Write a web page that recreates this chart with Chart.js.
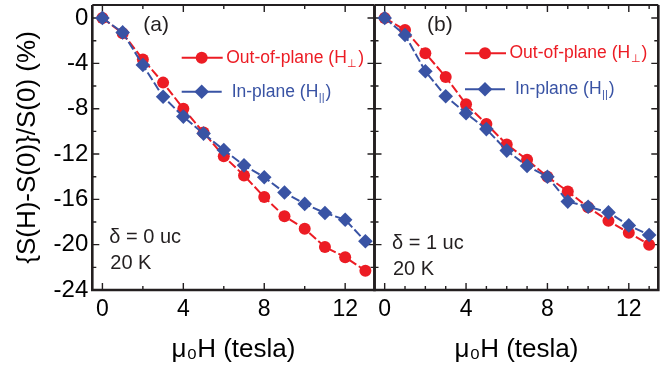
<!DOCTYPE html>
<html>
<head>
<meta charset="utf-8">
<script src="https://cdn.jsdelivr.net/npm/chart.js@4/dist/chart.umd.min.js"></script>
<style>
  html, body { margin: 0; padding: 0; background: #fff; }
  #wrap { position: relative; width: 668px; height: 371px; overflow: hidden; }
  canvas { position: absolute; top: 0; }
  #cA { left: 0; }
  #cB { left: 372px; }
</style>
</head>
<body>
<div id="wrap">
  <canvas id="cA" width="376" height="371"></canvas>
  <canvas id="cB" width="296" height="371"></canvas>
</div>
<script>
// field values (tesla)
const fieldT = [0, 1, 2, 3, 4, 5, 6, 7, 8, 9, 10, 11, 12, 13];

// panel (a), delta = 0 uc
const outPlaneA = [0, -1.35, -3.65, -5.7, -8.0, -10.1, -12.2, -13.9, -15.8, -17.5, -18.6, -20.2, -21.1, -22.3];
const inPlaneA = [0, -1.27, -4.15, -6.95, -8.7, -10.2, -11.65, -13.0, -14.05, -15.4, -16.4, -17.2, -17.8, -19.7];

// panel (b), delta = 1 uc
const outPlaneB = [0, -1.06, -3.1, -5.2, -7.6, -9.35, -11.15, -12.5, -14.0, -15.3, -16.7, -17.9, -18.95, -20.0];
const inPlaneB = [0, -1.5, -4.7, -6.9, -8.4, -9.8, -11.7, -13.05, -14.0, -16.2, -16.65, -17.15, -18.3, -19.15];

// tick labels
const xTickLabels = [0, 4, 8, 12];
const yTickLabels = [0, -4, -8, -12, -16, -20, -24];

const RED = '#ec1c24';
const BLUE = '#3953a4';
const INK = '#231f20';
const FONT = "'Liberation Sans', Arial, sans-serif";

function pts(ys) {
  return fieldT.map((x, i) => ({ x: x, y: ys[i] }));
}

// frame + inward ticks
const framePlugin = {
  id: 'frame',
  beforeDatasetsDraw(chart, args, opts) {
    const { ctx, chartArea: a, scales } = chart;
    const xs = scales.x, ys = scales.y;
    ctx.save();
    ctx.strokeStyle = INK;
    ctx.lineWidth = 1.4;
    // x ticks, top and bottom
    for (let v = 0; v <= 13; v += opts.xStep) {
      const px = xs.getPixelForValue(v);
      const len = v % 4 === 0 ? 7 : 4;
      ctx.beginPath();
      ctx.moveTo(px, a.bottom); ctx.lineTo(px, a.bottom - len);
      ctx.moveTo(px, a.top); ctx.lineTo(px, a.top + len);
      ctx.stroke();
    }
    // y ticks, left and right
    for (let v = 0; v >= -24; v -= 2) {
      const py = ys.getPixelForValue(v);
      const len = v % 4 === 0 ? 7 : 4;
      ctx.beginPath();
      ctx.moveTo(a.left, py); ctx.lineTo(a.left + len, py);
      ctx.moveTo(a.right, py); ctx.lineTo(a.right - len, py);
      ctx.stroke();
    }
    ctx.lineWidth = 2;
    ctx.beginPath();
    ctx.moveTo(a.left, a.top); ctx.lineTo(a.right, a.top);
    ctx.stroke();
    ctx.lineWidth = 2.6;
    ctx.beginPath();
    ctx.moveTo(a.left, a.top); ctx.lineTo(a.left, a.bottom);
    ctx.lineTo(a.right, a.bottom); ctx.lineTo(a.right, a.top);
    ctx.stroke();
    ctx.restore();
  }
};

// legend and panel annotations
function drawLabel(ctx, x, y, main, sub, color, size) {
  ctx.fillStyle = color;
  ctx.font = size + 'px ' + FONT;
  ctx.fillText(main, x, y);
  let w = ctx.measureText(main).width;
  ctx.font = Math.round(size * 0.65) + 'px ' + FONT;
  ctx.fillText(sub, x + w + 0.5, y + 6);
  w += ctx.measureText(sub).width + 1.5;
  ctx.font = size + 'px ' + FONT;
  ctx.fillText(')', x + w, y);
}

const notePlugin = {
  id: 'notes',
  afterDatasetsDraw(chart, args, o) {
    const { ctx, chartArea: a } = chart;
    ctx.save();
    ctx.textBaseline = 'middle';
    ctx.textAlign = 'left';
    // legend: red circle
    const lx = a.left + o.legX;
    ctx.strokeStyle = RED; ctx.lineWidth = 2;
    ctx.beginPath(); ctx.moveTo(lx, o.redY); ctx.lineTo(lx + 41, o.redY); ctx.stroke();
    ctx.fillStyle = RED;
    ctx.beginPath(); ctx.arc(lx + 20, o.redY, 6, 0, Math.PI * 2); ctx.fill();
    drawLabel(ctx, lx + 44.5, o.redY, 'Out-of-plane (H', '\u22a5', RED, 17.5);
    // legend: blue diamond
    ctx.strokeStyle = BLUE;
    ctx.beginPath(); ctx.moveTo(lx, o.blueY); ctx.lineTo(lx + 40, o.blueY); ctx.stroke();
    ctx.fillStyle = BLUE;
    const dx = lx + 20, r = 7.3;
    ctx.beginPath();
    ctx.moveTo(dx, o.blueY - r); ctx.lineTo(dx + r, o.blueY);
    ctx.lineTo(dx, o.blueY + r); ctx.lineTo(dx - r, o.blueY);
    ctx.closePath(); ctx.fill();
    drawLabel(ctx, lx + 50, o.blueY, 'In-plane (H', '||', BLUE, 17.5);
    // panel notes
    ctx.fillStyle = INK;
    ctx.font = '21px ' + FONT;
    ctx.fillText(o.tag, a.left + o.tagX, 25);
    ctx.font = '20px ' + FONT;
    ctx.fillText(o.delta, a.left + o.noteX, o.noteY);
    ctx.fillText('20 K', a.left + o.noteX + 1, o.noteY + 26);
    ctx.restore();
  }
};

function noPad(s) {
  s.paddingLeft = 0; s.paddingRight = 0;
  s.paddingTop = 0; s.paddingBottom = 0;
}

function makeChart(id, outVals, inVals, opt) {
  const ctx = document.getElementById(id).getContext('2d');
  return new Chart(ctx, {
    type: 'line',
    data: {
      datasets: [
        {
          label: 'In-plane',
          data: pts(inVals),
          borderColor: BLUE,
          backgroundColor: BLUE,
          borderWidth: 2,
          borderDash: [9, 3],
          pointStyle: 'rectRot',
          pointRadius: 7.3,
          pointBorderWidth: 0,
          tension: 0
        },
        {
          label: 'Out-of-plane',
          data: pts(outVals),
          borderColor: RED,
          backgroundColor: RED,
          borderWidth: 2,
          borderDash: [9, 3],
          pointStyle: 'circle',
          pointRadius: 6,
          pointBorderWidth: 0,
          tension: 0
        }
      ]
    },
    options: {
      responsive: false,
      animation: false,
      clip: false,
      layout: { autoPadding: false, padding: opt.padding },
      plugins: {
        legend: { display: false },
        tooltip: { enabled: false },
        frame: { xStep: opt.xStep },
        notes: opt.notes
      },
      scales: {
        x: {
          type: 'linear',
          min: -0.5,
          max: 13.45,
          grid: { display: false, drawTicks: false },
          border: { display: false },
          afterBuildTicks: (s) => { s.ticks = xTickLabels.map(v => ({ value: v })); },
          afterFit: (s) => { s.height = 81; noPad(s); },
          ticks: { color: '#000', padding: 6, font: { family: FONT, size: 23 } },
          title: {
            display: true,
            text: '\u03bc\u2080H (tesla)',
            color: '#000',
            padding: { top: 0, bottom: 6 },
            font: { family: FONT, size: 26 }
          }
        },
        y: {
          type: 'linear',
          min: -24,
          max: 1.15,
          grid: { display: false, drawTicks: false },
          border: { display: false },
          afterBuildTicks: (s) => { s.ticks = yTickLabels.map(v => ({ value: v })); },
          afterFit: (s) => { s.width = opt.showY ? 92.3 : 0; noPad(s); },
          ticks: { display: opt.showY, color: '#000', padding: 4, font: { family: FONT, size: 24 } },
          title: {
            display: opt.showY,
            text: '{S(H)-S(0)}/S(0) (%)',
            color: '#000',
            padding: { top: 12, bottom: 0 },
            font: { family: FONT, size: 26 }
          }
        }
      }
    },
    plugins: [framePlugin, notePlugin]
  });
}

makeChart('cA', outPlaneA, inPlaneA, {
  showY: true,
  xStep: 2,
  padding: { left: 0, right: 1.5, top: 5, bottom: 0 },
  notes: { legX: 89.4, redY: 57.7, blueY: 91.7, tag: '(a)', tagX: 51, delta: '\u03b4 = 0 uc', noteX: 17, noteY: 237 }
});

makeChart('cB', outPlaneB, inPlaneB, {
  showY: false,
  xStep: 1,
  padding: { left: 2.5, right: 9.7, top: 5, bottom: 0 },
  notes: { legX: 90.5, redY: 53.3, blueY: 89.3, tag: '(b)', tagX: 52.5, delta: '\u03b4 = 1 uc', noteX: 17.5, noteY: 243 }
});
</script>
</body>
</html>
